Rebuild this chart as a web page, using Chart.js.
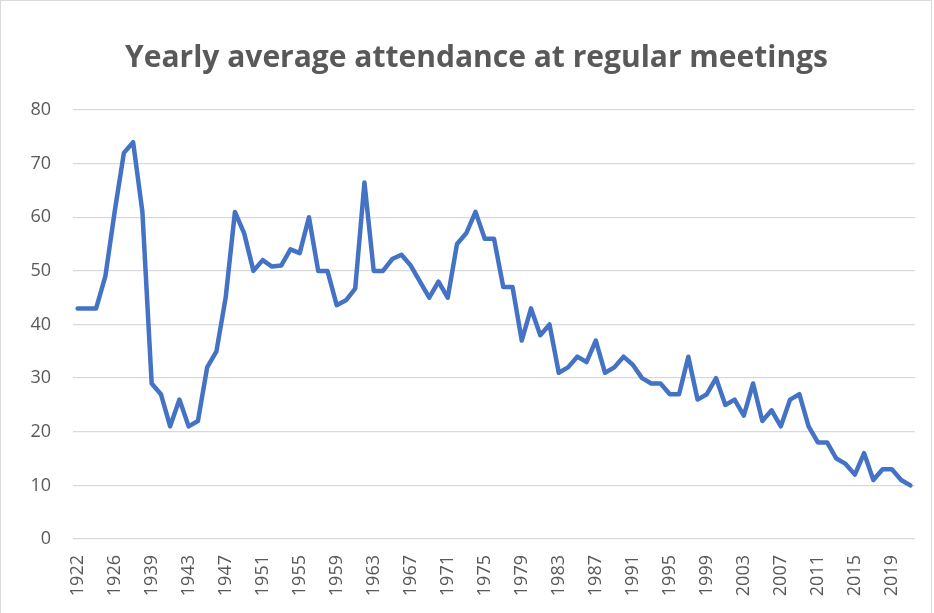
<!DOCTYPE html>
<html>
<head>
<meta charset="utf-8">
<script src="https://cdn.jsdelivr.net/npm/chart.js@4/dist/chart.umd.min.js"></script>
<style>
  html, body { margin: 0; padding: 0; background: #ffffff; }
  #wrap { position: relative; width: 934px; height: 613px; overflow: hidden; }
  #frame { position: absolute; left: 0; top: 0; width: 930px; height: 700px; border: 1px solid #d9d9d9; pointer-events: none; }
  canvas { display: block; }
</style>
</head>
<body>
<div id="wrap">
  <canvas id="c" width="934" height="613"></canvas>
  <div id="frame"></div>
</div>
<script>
const titleText = "Yearly average attendance at regular meetings";

const years = [
  "1922","1923","1924","1925","1926","1927","1928","1929",
  "1939","1940","1941","1942","1943","1944","1945","1946","1947","1948","1949","1950",
  "1951","1952","1953","1954","1955","1956","1957","1958","1959","1960",
  "1961","1962","1963","1964","1965","1966","1967","1968","1969","1970",
  "1971","1972","1973","1974","1975","1976","1977","1978","1979","1980",
  "1981","1982","1983","1984","1985","1986","1987","1988","1989","1990",
  "1991","1992","1993","1994","1995","1996","1997","1998","1999","2000",
  "2001","2002","2003","2004","2005","2006","2007","2008","2009","2010",
  "2011","2012","2013","2014","2015","2016","2017","2018","2019","2020","2021"
];

const attendance = [
  43, 43, 43, 49, 61, 72, 74, 61,
  29, 27, 21, 26, 21, 22, 32,
  35, 45, 61, 57, 50, 52, 50.8, 51, 54, 53.3, 60, 50, 50, 43.6, 44.5,
  46.7, 66.5, 50, 50, 52.2, 53, 51, 48, 45, 48, 45, 55, 57, 61, 56, 56,
  47, 47, 37, 43, 38, 40, 31, 32, 34, 33, 37, 31, 32, 34, 32.5,
  30, 29, 29, 27, 27, 34, 26, 27, 30, 25, 26, 23, 29, 22, 24,
  21, 26, 27, 21, 18, 18, 15, 14, 12, 16, 11, 13, 13, 11, 10
];

const yTicks = [0, 10, 20, 30, 40, 50, 60, 70, 80];

const textColor = "#595959";
const gridColor = "#d9d9d9";
const lineColor = "#4472c4";

new Chart(document.getElementById("c"), {
  type: "line",
  data: {
    labels: years,
    datasets: [{
      label: "Attendance",
      data: attendance,
      borderColor: lineColor,
      backgroundColor: lineColor,
      borderWidth: 4.5,
      pointRadius: 0,
      pointHoverRadius: 0,
      tension: 0,
      borderJoinStyle: "round",
      borderCapStyle: "round",
      fill: false
    }]
  },
  options: {
    responsive: false,
    animation: false,
    layout: { padding: { left: 19, right: 0, top: 0, bottom: 0 } },
    plugins: {
      legend: { display: false },
      tooltip: { enabled: false },
      title: {
        display: true,
        text: titleText,
        color: textColor,
        font: { family: "'Open Sans'", size: 30, weight: "bold" },
        padding: { top: 40, bottom: 34 }
      }
    },
    scales: {
      x: {
        type: "category",
        offset: true,
        grid: { display: false, drawTicks: false },
        border: { display: false },
        ticks: {
          autoSkip: false,
          minRotation: 90,
          maxRotation: 90,
          padding: 16,
          color: textColor,
          font: { family: "'Open Sans'", size: 18 },
          callback: function (val, idx) {
            return idx % 4 === 0 ? this.getLabelForValue(val) : "";
          }
        },
        afterFit: function (scale) {
          scale.height = 74;
          scale.paddingLeft = 0;
          scale.paddingRight = 19;
        }
      },
      y: {
        min: 0,
        max: 80,
        afterBuildTicks: function (scale) {
          scale.ticks = yTicks.map(v => ({ value: v }));
        },
        grid: { color: gridColor, lineWidth: 1.3, drawTicks: false },
        border: { display: false },
        ticks: {
          padding: 22,
          color: textColor,
          font: { family: "'Open Sans'", size: 18 }
        },
        afterFit: function (scale) { scale.width = 54; }
      }
    }
  }
});
</script>
</body>
</html>
